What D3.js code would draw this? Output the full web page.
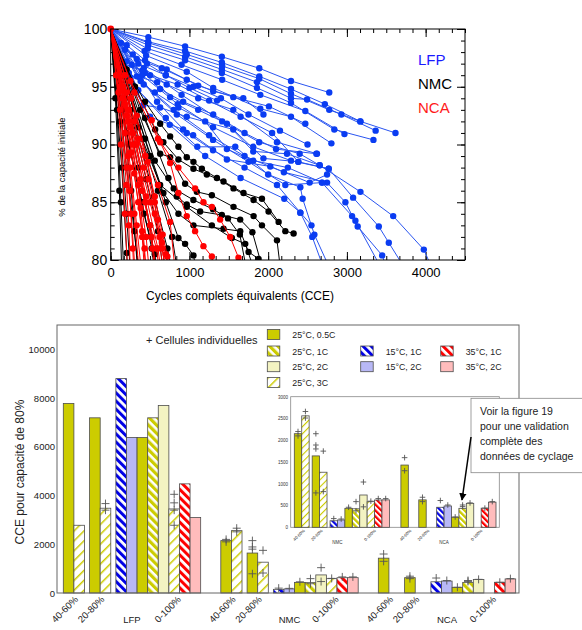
<!DOCTYPE html>
<html>
<head>
<meta charset="utf-8">
<script src="https://cdn.jsdelivr.net/npm/d3@7"></script>
<style>
  body { margin: 0; background: #fff; }
  text { font-family: "Liberation Sans", Arial, sans-serif; }
</style>
</head>
<body>
<svg id="chart" width="582" height="630"></svg>
<script>
// ---------- top chart: capacity fade curves, [CCE, % of initial capacity]
const lfpCurves = [
  [[0,100],[478,99.3],[945,98.5],[1412,97.6],[1887,96.6],[2290,95.5],[2776,94.5]],
  [[0,100],[475,98.9],[945,98.1],[1412,97.1],[1887,95.9],[2290,94.8],[2720,93.5],[3171,92.0],[3617,91.0]],
  [[0,100],[475,98.6],[945,97.6],[1412,96.5],[1857,95.4],[2290,94.0],[2494,93.9],[2930,92.6],[3365,91.2]],
  [[0,100],[470,98.3],[945,97.3],[1412,96.2],[1857,94.9],[2290,93.6],[2840,91.3],[3337,90.4]],
  [[0,100],[430,98.1],[900,96.9],[1416,95.6],[1900,94.3],[2472,92.9],[2969,90.9]],
  [[0,100],[450,97.7],[966,96.3],[1302,94.9],[1900,93.1],[2290,92.4],[2803,90.1]],
  [[0,100],[203,98.6],[436,97.3],[711,96.5],[1111,95.1],[1557,94.1],[2010,93.3],[2472,91.8]],
  [[0,100],[182,98.2],[331,97.4],[649,96.6],[966,95.6],[1302,94.6],[1684,94.0],[1940,92.6]],
  [[0,100],[267,96.9],[436,96.2],[711,95.2],[1111,94.0],[1557,93.0],[2112,90.2],[2620,89.2]],
  [[0,100],[331,95.9],[589,95.4],[755,94.1],[1111,93.0],[1476,91.8],[1811,89.4],[2239,89.2],[2654,88.2]],
  [[0,100],[250,95.8],[411,93.4],[628,93.2],[966,92.4],[1557,91.3],[1940,88.8],[2383,88.5],[2769,87.9]],
  [[0,100],[300,94.8],[500,92.4],[920,91.3],[1047,90.8],[1476,88.7],[2027,88.1],[2527,86.7],[2748,87.4]],
  [[0,100],[420,96.6],[900,94.3],[1416,92.0],[1886,90.2],[2400,89.2],[2654,88.2],[3172,85.9],[3588,83.8],[3977,80.9],[4100,79]],
  [[0,100],[400,96.0],[850,93.5],[1300,91.5],[1811,89.8],[2290,88.6],[2769,87.9],[3079,85.4],[3405,82.9],[3532,81.5],[3760,79]],
  [[0,100],[380,95.5],[800,93.0],[1250,90.8],[1700,89.0],[2200,87.6],[2748,86.7],[2981,85.0],[3137,82.9],[3448,80.4],[3520,79]],
  [[0,100],[420,95.2],[840,92.6],[1300,90.4],[1750,88.5],[2218,86.5],[2684,86.7],[3066,83.8],[3108,83.4],[3460,79]],
  [[0,100],[300,95.0],[700,92.3],[1100,89.8],[1582,89.8],[2000,87.4],[2409,86.3],[2438,85.3],[2587,82.2],[2800,79]],
  [[0,100],[350,94.7],[750,91.7],[1200,89.0],[1650,87.1],[2205,85.3],[2409,84.1],[2560,82.0],[2720,79]],
  [[0,100],[200,97.2],[500,96.0],[850,95.2],[1250,93.8],[1650,92.4],[2050,91.0],[2383,88.5]],
  [[0,100],[478,98.8],[966,97.8],[1416,96.8],[1886,95.7],[2290,94.4],[2776,93.0],[3171,92.0]],
  [[0,100],[160,97.0],[400,96.4],[628,94.8],[920,93.7],[1302,92.6],[1700,91.0],[2100,89.6],[2612,89.2]],
  [[0,100],[230,96.2],[560,94.5],[860,93.2],[1200,92.0],[1476,89.6],[1811,88.6],[2250,88.0],[2684,86.7]],
  [[0,100],[350,97.0],[700,96.0],[1050,95.0],[1400,94.0],[1750,92.6],[2150,91.2],[2500,90.0]],
  [[0,100],[589,93.7],[966,91.0],[1300,89.5],[1700,88.0],[2112,86.5],[2409,84.1],[2550,83.0]],
  [[0,100],[130,98.8],[280,97.8],[460,97.0],[700,96.0],[1000,94.9],[1350,93.8]]
];
const nmcCurves = [
  [[0,100],[203,96.5],[436,93.7],[628,91.8],[755,90.7],[860,89.8],[966,88.9],[1051,88.5],[1158,87.9],[1349,87.1],[1560,86.2],[1815,85.2],[2005,84.2],[2218,82.5],[2323,82.3]],
  [[0,100],[309,95.0],[564,91.3],[669,90.2],[860,88.7],[1051,87.9],[1221,87.4],[1433,86.8],[1687,85.8],[1921,85.3],[2133,83.3]],
  [[0,100],[373,93.0],[628,89.2],[755,88.9],[945,86.6],[1094,85.9],[1285,85.6],[1560,84.6],[1815,83.8],[1921,83.0],[2112,81.7],[2160,79]],
  [[0,100],[436,92.3],[733,87.1],[839,85.5],[966,84.8],[1136,84.2],[1412,83.9],[1645,83.5],[1800,82.4],[1940,79]],
  [[0,100],[436,90.5],[669,85.8],[860,84.0],[1051,83.0],[1433,82.7],[1645,82.5],[1751,80.7],[1878,80.1],[1920,79]],
  [[0,100],[500,89.0],[700,85.0],[860,81.9],[945,81.4],[1051,80.4],[1090,79]],
  [[0,100],[400,90.5],[628,86.5],[966,84.6],[1285,83.0],[1539,81.9],[1709,81.4],[1830,79]],
  [[0,100],[560,88.6],[800,86.2],[1050,85.2],[1300,84.4],[1490,83.6],[1640,82.2],[1730,79]],
  [[0,100],[80,93],[130,85],[165,79]],
  [[0,100],[120,92],[200,84],[250,79]],
  [[0,100],[150,93],[260,86],[345,79]],
  [[0,100],[100,95],[200,88],[300,82.5],[355,79]],
  [[0,100],[180,94],[350,88],[500,83],[580,79]],
  [[0,100],[250,93],[450,87],[600,82.5],[670,79]],
  [[0,100],[300,92],[550,85.5],[720,81],[780,79]],
  [[0,100],[200,91],[400,85],[520,81],[560,79]],
  [[0,100],[350,91.5],[600,86],[780,82],[850,79]],
  [[0,100],[140,88],[203,80.6],[215,79]],
  [[0,100],[60,94],[110,86],[140,79]],
  [[0,100],[230,90],[420,84],[560,80.5],[590,79]]
];
const ncaCurves = [
  [[0,100],[250,95.5],[521,92.1],[628,90.2],[755,88.4],[860,85.8],[966,83.8],[1072,82.5],[1178,81.2],[1285,80.3],[1320,79]],
  [[0,100],[300,94.5],[600,90.5],[860,88.0],[1072,86.2],[1178,85.0],[1285,84.6],[1390,83.5],[1517,82.0],[1623,80.2],[1660,79]],
  [[0,100],[350,90.5],[600,86.5],[755,83.3],[820,79]],
  [[0,100],[150,94],[250,88],[330,83],[390,79]],
  [[0,100],[120,95],[220,89],[300,84],[360,79]],
  [[0,100],[180,93.5],[300,87.5],[400,82.5],[450,79]],
  [[0,100],[200,92.5],[350,86.5],[450,82],[490,79]],
  [[0,100],[250,91.5],[400,86],[520,82],[580,79]],
  [[0,100],[100,94.5],[200,88],[260,84],[310,79]],
  [[0,100],[280,91],[450,85.5],[600,81],[640,79]],
  [[0,100],[220,92],[380,87],[500,83],[580,81],[620,79]],
  [[0,100],[320,90],[500,85],[650,81],[710,79]],
  [[0,100],[160,95],[280,90],[380,84.5],[430,81],[450,79]],
  [[0,100],[90,96],[180,91],[240,86],[280,81],[295,79]],
  [[0,100],[140,94.8],[260,89.3],[350,85],[400,82],[430,79]],
  [[0,100],[300,92],[480,87],[600,83.5],[700,80.5],[730,79]],
  [[0,100],[200,94.5],[330,90],[440,85],[530,81],[560,79]],
  [[0,100],[70,96],[130,90],[180,84],[215,79]],
  [[0,100],[230,93],[420,88],[560,84],[650,81.5],[690,79]],
  [[0,100],[120,93],[200,86.5],[230,83],[250,79]],
  [[0,100],[260,94],[440,89],[560,85.5],[660,82.2],[720,80.3],[740,79]],
  [[0,100],[180,96],[330,92.5],[470,88.5],[560,85],[620,82],[660,79]]
];
const topTicksX = [0, 1000, 2000, 3000, 4000];
const topTicksY = [80, 85, 90, 95, 100];

// ---------- bottom chart: CCE to 80 % capacity
const chemistries = ["LFP", "NMC", "NCA"];
const windows = ["40-60%", "20-80%", "0-100%"];
const shortConditions = ["25°C, 0.5C", "25°C, 3C"];
const fullConditions = ["15°C, 1C", "15°C, 2C", "25°C, 0.5C", "25°C, 1C", "25°C, 2C", "25°C, 3C", "35°C, 1C", "35°C, 2C"];
// order: 40-60 (0.5C, 3C), 20-80 (0.5C, 3C), 0-100 (8 conditions)
const lfpCycles = [7780, 2780, 7190, 3480, 8800, 6380, 6380, 7190, 7700, 3450, 4480, 3100];
const nmcCycles = [2150, 2560, 1640, 1265, 150, 168, 436, 425, 742, 588, 627, 630];
const ncaCycles = [1430, null, 630, null, 460, 490, 232, 436, 551, null, 440, 578];
const lfpCells = [[], [], [], [3670, 3400], [], [], [], [], [], [4050, 3700, 3400, 2780], [], []];
const nmcCells = [[2200, 2100], [2660, 2510], [2150, 1890, 1800, 790], [1750, 820], [200], [190], [460], [590, 380], [1040, 470], [600], [660], [660]];
const ncaCells = [[1600, 1300], [], [690, 590], [], [615], [512], [237], [512, 475], [560], [], [440], [590]];
const mainTicks = [0, 2000, 4000, 6000, 8000, 10000];
const insetTicks = [0, 500, 1000, 1500, 2000, 2500, 3000];
const legendRows = [
  ["25°C, 0.5C", null, null],
  ["25°C, 1C", "15°C, 1C", "35°C, 1C"],
  ["25°C, 2C", "15°C, 2C", "35°C, 2C"],
  ["25°C, 3C", null, null]
];
const noteLines = ["Voir la figure 19", "pour une validation", "complète des", "données de cyclage"];

const svg = d3.select("#chart");
svg.append("rect").attr("width", 582).attr("height", 630).attr("fill", "#fff");
const defs = svg.append("defs");

// ================= TOP CHART =================
const xTop = d3.scaleLinear().domain([0, 4500]).range([110.7, 465]);
const yTop = d3.scaleLinear().domain([80, 100]).range([260, 29]);

defs.append("clipPath").attr("id", "plotClip")
  .append("rect").attr("x", xTop(0) - 4).attr("y", yTop(100) - 4)
  .attr("width", xTop(4500) - xTop(0) + 4).attr("height", yTop(80) - yTop(100) + 4);

const minorX = d3.range(0, 28).map(i => i * 1000 / 6).filter(v => v <= 4500);
const minorY = d3.range(80, 101, 1);

function axisStyle(g) {
  g.select(".domain").remove();
  g.selectAll("line").attr("stroke", "#000");
}
// minor ticks
svg.append("g").attr("transform", `translate(0,${yTop(80)})`)
  .call(d3.axisBottom(xTop).tickValues(minorX).tickSize(-4).tickFormat("")).call(axisStyle);
svg.append("g").attr("transform", `translate(0,${yTop(100)})`)
  .call(d3.axisTop(xTop).tickValues(minorX).tickSize(-4).tickFormat("")).call(axisStyle);
svg.append("g").attr("transform", `translate(${xTop(0)},0)`)
  .call(d3.axisLeft(yTop).tickValues(minorY).tickSize(-4).tickFormat("")).call(axisStyle);
svg.append("g").attr("transform", `translate(${xTop(4500)},0)`)
  .call(d3.axisRight(yTop).tickValues(minorY).tickSize(-4).tickFormat("")).call(axisStyle);
// major ticks
svg.append("g").attr("transform", `translate(0,${yTop(80)})`)
  .call(d3.axisBottom(xTop).tickValues(topTicksX).tickSize(-8).tickPadding(8).tickFormat(d3.format("d")))
  .call(axisStyle)
  .call(g => g.selectAll("text").attr("font-size", 13).attr("fill", "#000"));
svg.append("g").attr("transform", `translate(0,${yTop(100)})`)
  .call(d3.axisTop(xTop).tickValues(topTicksX).tickSize(-8).tickFormat("")).call(axisStyle);
svg.append("g").attr("transform", `translate(${xTop(0)},0)`)
  .call(d3.axisLeft(yTop).tickValues(topTicksY).tickSize(-8).tickPadding(3.5))
  .call(axisStyle)
  .call(g => g.selectAll("text").attr("font-size", 14).attr("fill", "#000"));
svg.append("g").attr("transform", `translate(${xTop(4500)},0)`)
  .call(d3.axisRight(yTop).tickValues(topTicksY).tickSize(-8).tickFormat("")).call(axisStyle);

const plot = svg.append("g").attr("clip-path", "url(#plotClip)");
const line = d3.line().x(d => xTop(d[0])).y(d => yTop(d[1]));

function drawSeries(curves, lineColor, dotColor) {
  const g = plot.append("g");
  g.selectAll("path").data(curves).join("path")
    .attr("d", line).attr("fill", "none")
    .attr("stroke", lineColor).attr("stroke-width", 1);
  g.selectAll("circle").data(curves.flatMap(c => c.slice(1))).join("circle")
    .attr("cx", d => xTop(d[0])).attr("cy", d => yTop(d[1]))
    .attr("r", 3.2).attr("fill", dotColor);
}
drawSeries(lfpCurves, "#2a55f0", "#0a3cf2");
drawSeries(nmcCurves, "#000", "#000");
drawSeries(ncaCurves, "#f00", "#f00");
plot.append("circle").attr("cx", xTop(0)).attr("cy", yTop(100)).attr("r", 3.4).attr("fill", "#f00");

svg.append("rect")
  .attr("x", xTop(0)).attr("y", yTop(100))
  .attr("width", xTop(4500) - xTop(0)).attr("height", yTop(80) - yTop(100))
  .attr("fill", "none").attr("stroke", "#000").attr("stroke-width", 1);

svg.append("text").attr("x", 240).attr("y", 300).attr("text-anchor", "middle")
  .attr("font-size", 12).text("Cycles complets équivalents (CCE)");
svg.append("text").attr("transform", "translate(65,167) rotate(-90)")
  .attr("text-anchor", "middle").attr("font-size", 9.5).text("% de la capacité initiale");

const chemColors = ["#1a1aff", "#000", "#ff1a1a"];
svg.append("g").selectAll("text").data(chemistries).join("text")
  .attr("x", 418).attr("y", (d, i) => 65 + i * 24)
  .attr("font-size", 15).attr("fill", (d, i) => chemColors[i]).text(d => d);

// ================= BOTTOM CHART =================
function stripes(id, color, period, width, angle) {
  const p = defs.append("pattern").attr("id", id)
    .attr("patternUnits", "userSpaceOnUse")
    .attr("width", period).attr("height", period)
    .attr("patternTransform", `rotate(${angle})`);
  p.append("rect").attr("width", period).attr("height", period).attr("fill", "#fff");
  p.append("rect").attr("width", width).attr("height", period).attr("fill", color);
}
stripes("pY1", "#cccc00", 5.8, 3.2, -45);
stripes("pY3", "#cccc00", 7, 1.5, 45);
stripes("pB1", "#0000e6", 5.8, 3.0, -45);
stripes("pR1", "#ff0000", 5.8, 3.0, -45);
stripes("pY1s", "#cccc00", 4.2, 2.3, -45);
stripes("pY3s", "#cccc00", 5, 1.1, 45);
stripes("pB1s", "#0000e6", 4.2, 2.2, -45);
stripes("pR1s", "#ff0000", 4.2, 2.2, -45);

const condFill = {
  "25°C, 0.5C": "#cccc00", "25°C, 1C": "url(#pY1)", "25°C, 2C": "#f3f3c2", "25°C, 3C": "url(#pY3)",
  "15°C, 1C": "url(#pB1)", "15°C, 2C": "#b8b8f6", "35°C, 1C": "url(#pR1)", "35°C, 2C": "#ffbcbc"
};
const condFillSmall = Object.assign({}, condFill, {
  "25°C, 1C": "url(#pY1s)", "25°C, 3C": "url(#pY3s)", "15°C, 1C": "url(#pB1s)", "35°C, 1C": "url(#pR1s)"
});

const cyclesByChem = [lfpCycles, nmcCycles, ncaCycles];
const cellsByChem = [lfpCells, nmcCells, ncaCells];
const condByWindow = [shortConditions, shortConditions, fullConditions];

// slot-unit layout: windows of 2, 2, 8 bars, gap inside and between chemistries
function makeLayout(subGap, groupGap) {
  const span = 12 + 2 * subGap;
  return { span, step: span + groupGap, subStart: [0, 2 + subGap, 4 + 2 * subGap] };
}
function buildBars(chemIdx, gi, lay) {
  const bars = [];
  let idx = 0;
  windows.forEach((w, wi) => {
    condByWindow[wi].forEach((cond, k) => {
      bars.push({
        cond, value: cyclesByChem[chemIdx][idx], cells: cellsByChem[chemIdx][idx],
        unit: gi * lay.step + lay.subStart[wi] + k
      });
      idx++;
    });
  });
  return bars;
}
function windowLabels(gi, lay) {
  return windows.map((w, wi) => ({
    text: w, unit: gi * lay.step + lay.subStart[wi] + (wi < 2 ? 1.45 : 6.2)
  }));
}
const plusPath = s => `M${-s},0H${s}M0,${-s}V${s}`;

function drawBars(g, bars, x, y, fills, plusSize) {
  const bw = x(1) - x(0);
  const present = bars.filter(b => b.value != null);
  g.selectAll("rect.bar").data(present).join("rect").attr("class", "bar")
    .attr("x", d => x(d.unit)).attr("width", bw)
    .attr("y", d => y(d.value)).attr("height", d => y(0) - y(d.value))
    .attr("fill", d => fills[d.cond]).attr("stroke", "#4d4d4d").attr("stroke-width", 0.8);
  g.selectAll("path.cell").data(bars.flatMap(b => b.cells.map(v => ({ unit: b.unit, v }))))
    .join("path").attr("class", "cell")
    .attr("transform", d => `translate(${x(d.unit + 0.5)},${y(d.v)})`)
    .attr("d", plusPath(plusSize)).attr("stroke", "#555").attr("stroke-width", 0.9).attr("fill", "none");
}

// main chart
const mainLay = makeLayout(0.48, 1.9);
const xMain = d3.scaleLinear().domain([0, 3 * mainLay.span + 2 * 1.9]).range([63.3, 515.7]);
const yMain = d3.scaleLinear().domain([0, 11000]).range([593, 325]);

const mainG = svg.append("g");
drawBars(mainG, chemistries.flatMap((c, ci) => buildBars(ci, ci, mainLay)), xMain, yMain, condFill, 4);

svg.append("rect").attr("x", 57).attr("y", yMain(11000))
  .attr("width", 519 - 57).attr("height", yMain(0) - yMain(11000))
  .attr("fill", "none").attr("stroke", "#666").attr("stroke-width", 1);

svg.append("g").attr("transform", "translate(55,0)")
  .call(d3.axisLeft(yMain).tickValues(mainTicks).tickSize(0).tickPadding(0).tickFormat(d3.format("d")))
  .call(g => g.select(".domain").remove())
  .call(g => g.selectAll("text").attr("font-size", 9.5).attr("fill", "#222"));

svg.append("g").selectAll("text")
  .data(chemistries.flatMap((c, ci) => windowLabels(ci, mainLay)))
  .join("text")
  .attr("transform", d => `translate(${xMain(d.unit)},600) rotate(-45)`)
  .attr("text-anchor", "end").attr("font-size", 9.5).attr("fill", "#222").text(d => d.text);

svg.append("g").selectAll("text").data(chemistries).join("text")
  .attr("x", (d, i) => xMain(i * mainLay.step + mainLay.span / 2)).attr("y", 623)
  .attr("text-anchor", "middle").attr("font-size", 9.5).attr("fill", "#222").text(d => d);

svg.append("text").attr("transform", "translate(24,472) rotate(-90)")
  .attr("text-anchor", "middle").attr("font-size", 12).attr("fill", "#222").text("CCE pour capacité de 80%");

svg.append("text").attr("x", 146).attr("y", 344).attr("font-size", 11).attr("fill", "#222")
  .text("+ Cellules individuelles");

// legend
const legX = [267.3, 360.7, 440.7];
const legY = [329.5, 346, 361.7, 377.5];
const legItems = legendRows.flatMap((row, r) => row.map((c, col) => ({ c, r, col })).filter(d => d.c));
const leg = svg.append("g").selectAll("g").data(legItems).join("g")
  .attr("transform", d => `translate(${legX[d.col]},${legY[d.r]})`);
leg.append("rect").attr("width", 12.5).attr("height", 10)
  .attr("fill", d => condFill[d.c]).attr("stroke", "#4d4d4d").attr("stroke-width", 0.8);
leg.append("text").attr("x", 25).attr("y", 8.5).attr("font-size", 8.8).attr("fill", "#222").text(d => d.c);

// inset (NMC + NCA zoom)
const insetLay = makeLayout(0.41, 1.55);
const xIn = d3.scaleLinear().domain([0, 2 * insetLay.span + 1.55]).range([294.3, 496]);
const yIn = d3.scaleLinear().domain([0, 3000]).range([527.3, 396.7]);
svg.append("rect").attr("x", 290.7).attr("y", yIn(3000))
  .attr("width", 499.3 - 290.7).attr("height", yIn(0) - yIn(3000))
  .attr("fill", "#fff").attr("stroke", "#888").attr("stroke-width", 0.8);
const inG = svg.append("g");
drawBars(inG, [1, 2].flatMap((ci, gi) => buildBars(ci, gi, insetLay)), xIn, yIn, condFillSmall, 2.8);

svg.append("g").attr("transform", "translate(288,0)")
  .call(d3.axisLeft(yIn).tickValues(insetTicks).tickSize(0).tickPadding(0).tickFormat(d3.format("d")))
  .call(g => g.select(".domain").remove())
  .call(g => g.selectAll("text").attr("font-size", 4.5).attr("fill", "#333"));
svg.append("g").selectAll("text")
  .data([0, 1].flatMap(gi => windowLabels(gi, insetLay)))
  .join("text")
  .attr("transform", d => `translate(${xIn(d.unit)},531) rotate(-45)`)
  .attr("text-anchor", "end").attr("font-size", 4.2).attr("fill", "#333").text(d => d.text);
svg.append("g").selectAll("text").data(["NMC", "NCA"]).join("text")
  .attr("x", (d, i) => xIn(i * insetLay.step + insetLay.span / 2 - 0.6)).attr("y", 544)
  .attr("text-anchor", "middle").attr("font-size", 4.5).attr("fill", "#333").text(d => d);

// note box + arrow
svg.append("rect").attr("x", 471).attr("y", 398.3).attr("width", 112).attr("height", 74.4)
  .attr("fill", "#fff").attr("stroke", "#888").attr("stroke-width", 0.8);
svg.append("g").selectAll("text").data(noteLines).join("text")
  .attr("x", 480).attr("y", (d, i) => 414.5 + i * 15)
  .attr("font-size", 10.5).attr("fill", "#222").text(d => d);
defs.append("marker").attr("id", "arrowHead").attr("viewBox", "0 0 10 10")
  .attr("refX", 9).attr("refY", 5).attr("markerWidth", 5).attr("markerHeight", 5)
  .attr("orient", "auto")
  .append("path").attr("d", "M0,0L10,5L0,10z").attr("fill", "#000");
svg.append("line").attr("x1", 471).attr("y1", 437).attr("x2", 462).attr("y2", 500)
  .attr("stroke", "#000").attr("stroke-width", 1.5).attr("marker-end", "url(#arrowHead)");
</script>
</body>
</html>
